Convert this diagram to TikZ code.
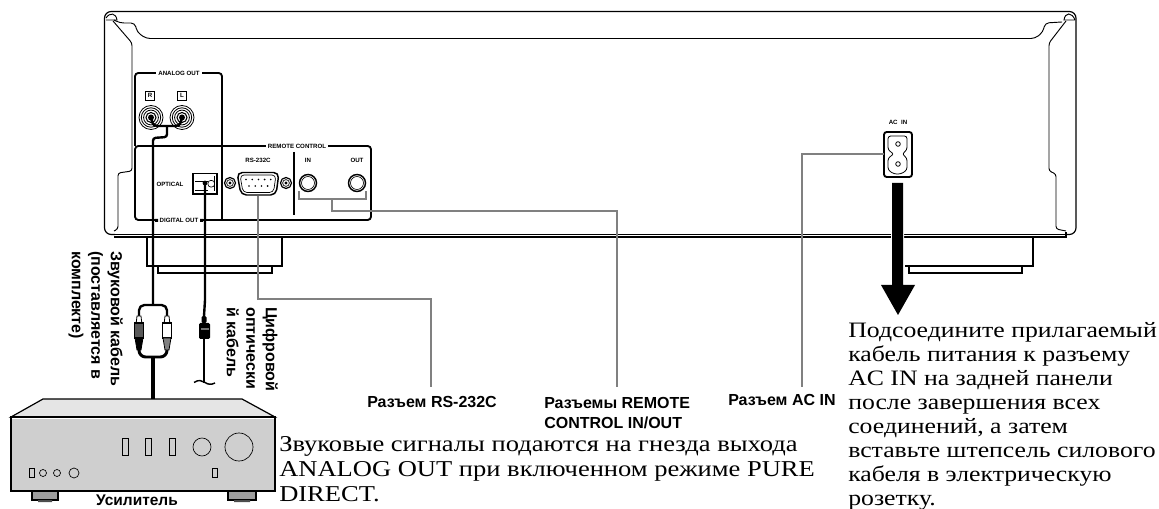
\documentclass[tikz,border=0pt]{standalone}
\usepackage{fontspec}
\setmainfont{Liberation Serif}
\setsansfont{Liberation Sans}
\newfontfamily\notefont[FakeStretch=1.17]{Liberation Serif}
\definecolor{leadgray}{gray}{0.5}
\definecolor{ampgray}{gray}{0.81}
\definecolor{amptop}{gray}{0.9}
\definecolor{ampfoot}{gray}{0.62}
\tikzset{
	panel/.style={line width=1.4pt,rounded corners=2.5pt},
	leader/.style={leadgray,line width=1.3pt},
	paneltext/.style={font=\sffamily\bfseries\fontsize{4.6}{5}\selectfont,inner sep=0.6pt},
	gaptext/.style={paneltext,fill=white,inner sep=1.5pt},
	callout/.style={font=\sffamily\bfseries\fontsize{12}{15}\selectfont,inner sep=0pt,align=left},
	sidetext/.style={font=\sffamily\bfseries\fontsize{12}{14.6}\selectfont,inner sep=0pt,align=left,rotate=-90,anchor=north west},
	body/.style={inner sep=0pt,align=left,anchor=north west},
	cable/.style={line width=1.8pt,line join=round},
	ampctl/.style={line width=0.5pt,fill=ampgray},
}
\begin{document}
\begin{tikzpicture}[x=0.75pt,y=-0.75pt,>=stealth]
	\useasboundingbox (0,0) rectangle (1159,509);
	% chassis
	\draw[line width=0.9pt,rounded corners=5pt] (115,234.5) -- (104.5,234.5) -- (104.5,11.5) -- (1076,11.5) -- (1076,234.5) -- (1066,234.5);
	\draw[line width=0.9pt] (114,234.5) -- (1066,234.5) (114,237) -- (1066,237) -- (1066,232);
	\draw[line width=0.7pt] (106,18) .. controls (110,12) and (116,13) .. (117,20) -- (106,20);
	\draw[line width=0.7pt] (1075,20) -- (1064,20) .. controls (1065,12) and (1072,12) .. (1075,20);
	\draw[line width=0.7pt,rounded corners=3pt] (114,20) -- (120,23) -- (135,23) -- (137,32) -- (146,38.5) -- (1035,38.5) -- (1043,32) -- (1045,23) -- (1062,22);
	\draw[line width=0.7pt,rounded corners=2pt] (113,21) -- (132,43) -- (132,171) -- (118,173) -- (118,229) -- (114,231);
	\draw[line width=0.7pt,rounded corners=2pt] (1066,21) -- (1049,43) -- (1049,171) -- (1056,174) -- (1056,229) -- (1066,231);
	% feet
	\draw[line width=0.9pt] (147,237) -- (147,266) -- (282,266) -- (282,237);
	\draw[line width=0.9pt] (158,266) -- (158,273) -- (272,273) -- (272,266);
	\draw[line width=0.9pt] (1033,237) -- (1033,266) -- (905,266);
	\draw[line width=0.9pt] (909,266) -- (909,273) -- (1022,273) -- (1022,266);
	% panels
	\draw[panel] (135,146) -- (135,73) -- (222,73) -- (222,220);
	\draw[panel] (135,146) -- (371,146) -- (371,220) -- (135,220) -- cycle;
	\draw[line width=1.2pt] (294,152) -- (294,215);
	\node[gaptext] (analog) at (179,73) {ANALOG OUT};
	\node[gaptext] (remote) at (297,146.5) {REMOTE CONTROL};
	\node[gaptext] (digital) at (179,220.5) {DIGITAL OUT};
	\fill (155,219) rectangle (158,222) (200,219) rectangle (203,222);
	\node[paneltext] (rlab) at (308,160) {IN};
	\node[paneltext] (olab) at (357,160) {OUT};
	\node[paneltext] (rslab) at (258,160) {RS-232C};
	\node[paneltext] (optlab) at (170,184) {OPTICAL};
	\node[paneltext,draw,line width=0.4pt,minimum size=7pt,inner sep=0pt] (rbox) at (150,95.5) {R};
	\node[paneltext,draw,line width=0.4pt,minimum size=7pt,inner sep=0pt] (lbox) at (182,95.5) {L};
	\node[paneltext] (aclab) at (898,122) {AC\ \ IN};
	% analog jacks
	\foreach \jx in {151,182} {
		\draw[line width=0.6pt] (\jx,117.5) circle (12) (\jx,117.5) circle (9.7) (\jx,117.5) circle (7.4);
		\draw[line width=0.8pt] (\jx,117.5) circle (5);
		\fill (\jx,117.5) circle (3);
	}
	% remote jacks
	\foreach \jx in {308,357} {
		\draw[line width=1.1pt] (\jx,183) circle (8.5);
		\draw[line width=0.5pt] (\jx,183) circle (6.5);
	}
	% optical socket
	\draw[line width=1.4pt] (193,173.5) rectangle (217,194);
	\draw[line width=0.5pt] (195,181.5) -- (208,181.5) (195,190) -- (208,190);
	\draw[line width=0.5pt] (214.5,176) -- (214.5,191.5);
	\draw[line width=0.5pt,rounded corners=2pt] (208,180.5) rectangle (214.5,187);
	% rs232 socket
	\draw[line width=1.1pt,rounded corners=4pt] (237,172.5) -- (279,172.5) -- (276,195) -- (241,195) -- cycle;
	\draw[line width=0.5pt,rounded corners=3pt] (240,175) -- (276,175) -- (273.5,192.5) -- (243,192.5) -- cycle;
	\foreach \px in {0,1,2,3,4} \fill (246+6.2*\px,179.5) circle (0.9);
	\foreach \px in {0,1,2,3} \fill (249+6.2*\px,186) circle (0.9);
	\foreach \sx in {230,286} {
		\draw[line width=0.9pt] (\sx,183) circle (5.5);
		\draw[line width=0.5pt] (\sx,183) circle (3.4);
		\fill (\sx,183) circle (1.6);
	}
	% ac inlet
	\draw[line width=1.4pt,rounded corners=2pt] (884,132) rectangle (912,177);
	\draw[line width=0.6pt,rounded corners=2pt] (888,136) -- (907,136) -- (907,150) -- (902,154) -- (907,158) -- (907,170) -- (901,174) -- (894,174) -- (888,170) -- (888,158) -- (894,154) -- (888,150) -- cycle;
	\draw[line width=0.6pt] (898,144) circle (2.3) (898,164) circle (2.3);
	% anchor points of the leaders
	\coordinate (rsjack) at (258,196);
	\coordinate (injack) at (299,191);
	\coordinate (outjack) at (366,191);
	\coordinate (acjack) at (884,154);
	% amplifier
	\draw[line width=0.9pt,fill=amptop] (11,417) -- (43,399) -- (242,399) -- (275,417) -- cycle;
	\draw[line width=0.9pt,fill=ampfoot] (32,491) -- (32,500) -- (58,500) -- (58,491);
	\draw[line width=0.9pt,fill=ampfoot] (228,491) -- (228,500) -- (256,500) -- (256,491);
	\fill[black!70] (38,500) rectangle (52,502) (234,500) rectangle (250,502);
	\draw[line width=0.9pt,fill=ampgray] (11,417) rectangle (275,491);
	\draw[white,line width=0.6pt] (12,418) -- (274,418);
	\foreach \rx in {125,148,172} \draw[ampctl] (\rx-3,438) rectangle (\rx+3,455);
	\draw[ampctl] (202,447) circle (9) (239,447) circle (14);
	\draw[ampctl] (29.5,468) rectangle (34.5,477) (212,468) rectangle (217,477);
	\draw[ampctl] (43,473) circle (3.5) (57,473) circle (3.5) (74,473) circle (5);
	% cables
	\draw[cable,rounded corners=3pt] (151,117.5) -- (153,126) -- (180,126) -- (182,117.5);
	\draw[cable,rounded corners=2pt] (167,126) -- (167,137) -- (153,138) -- (153,305);
	\coordinate (audiotop) at (153,305);
	\coordinate (audiolow) at (153,357);
	\coordinate (ampin) at (153,399);
	\draw[cable,rounded corners=4pt] (139,317) -- (139,305) -- (167,305) -- (167,317);
	\draw[line width=2.2pt,rounded corners=5pt] (139,348) -- (139,357) -- (167,357) -- (167,348);
	\draw[line width=2.6pt] (audiolow) -- (ampin);
	\foreach \px/\pcol/\pbot in {139/black!65/black,167/white/black!50} {
		\draw[line width=0.6pt,fill=white] (\px-2,316) -- (\px+2,316) -- (\px+2.8,323) -- (\px-2.8,323) -- cycle;
		\draw[line width=0.8pt,fill=\pcol] (\px-4.5,323) rectangle (\px+4.5,338);
		\draw[line width=0.6pt,fill=\pbot] (\px-4,338) -- (\px+4,338) -- (\px+2,350) -- (\px-2,350) -- cycle;
	}
	\draw[cable] (205,183) -- (205,300) -- (204,316);
	\fill (205,183) circle (2.4);
	\draw[line width=1.5pt] (204,338) -- (204,383);
	\draw[line width=1.1pt] (194,382.5) .. controls (199,379) and (202,381) .. (205,382.5) .. controls (208,384.5) and (211,385) .. (215,383);
	\fill[rounded corners=1pt] (201.5,316) rectangle (206.5,323) (199,323) rectangle (210,339);
	\fill[black!55] (200.5,328) rectangle (208.5,330.5);
	% captions and leaders
	\node[callout,anchor=west] (rscap) at (367,402) {Разъем RS-232C};
	\node[callout,anchor=north west] (remcap) at (544,397) {Разъемы REMOTE\\CONTROL IN/OUT};
	\node[callout,anchor=west] (accap) at (728,400) {Разъем AC IN};
	\coordinate (rsend) at (431,387);
	\coordinate (remend) at (617,387);
	\coordinate (acend) at (802,387);
	\draw[leader] (rsjack) |- (431,299) -- (rsend);
	\draw[leader] (injack) -- (299,199) -- (366,199) -- (outjack);
	\draw[leader] (332,199) |- (617,211) -- (remend);
	\draw[leader] (acjack) -| (acend);
	% arrow
	\draw[white,line width=1.5pt,fill=black] (892,183) -- (903,183) -- (903,285) -- (915,285) -- (898,315) -- (881,285) -- (892,285) -- cycle;
	\fill (892,183) -- (903,183) -- (903,285) -- (915,285) -- (898,315) -- (881,285) -- (892,285) -- cycle;
	% texts
	\node[sidetext] (audiocap) at (123,251) {Звуковой кабель\\(поставляется в\\комплекте)};
	\node[sidetext] (optcap) at (278,307) {Цифровой\\оптически\\й кабель};
	\node[font=\sffamily\bfseries\fontsize{11.6}{14}\selectfont,inner sep=0pt,anchor=base] (ampcap) at (137,505.5) {Усилитель};
	\node[body,font=\notefont\fontsize{17}{19}\selectfont] (notel) at (279,436) {Звуковые сигналы подаются на гнезда выхода\\ANALOG OUT при включенном режиме PURE\\DIRECT.};
	\node[body,font=\notefont\fontsize{16.5}{18}\selectfont] (noter) at (848,322.5) {Подсоедините прилагаемый\\кабель питания к разъему\\AC IN на задней панели\\после завершения всех\\соединений, а затем\\вставьте штепсель силового\\кабеля в электрическую\\розетку.};
\end{tikzpicture}
\end{document}
